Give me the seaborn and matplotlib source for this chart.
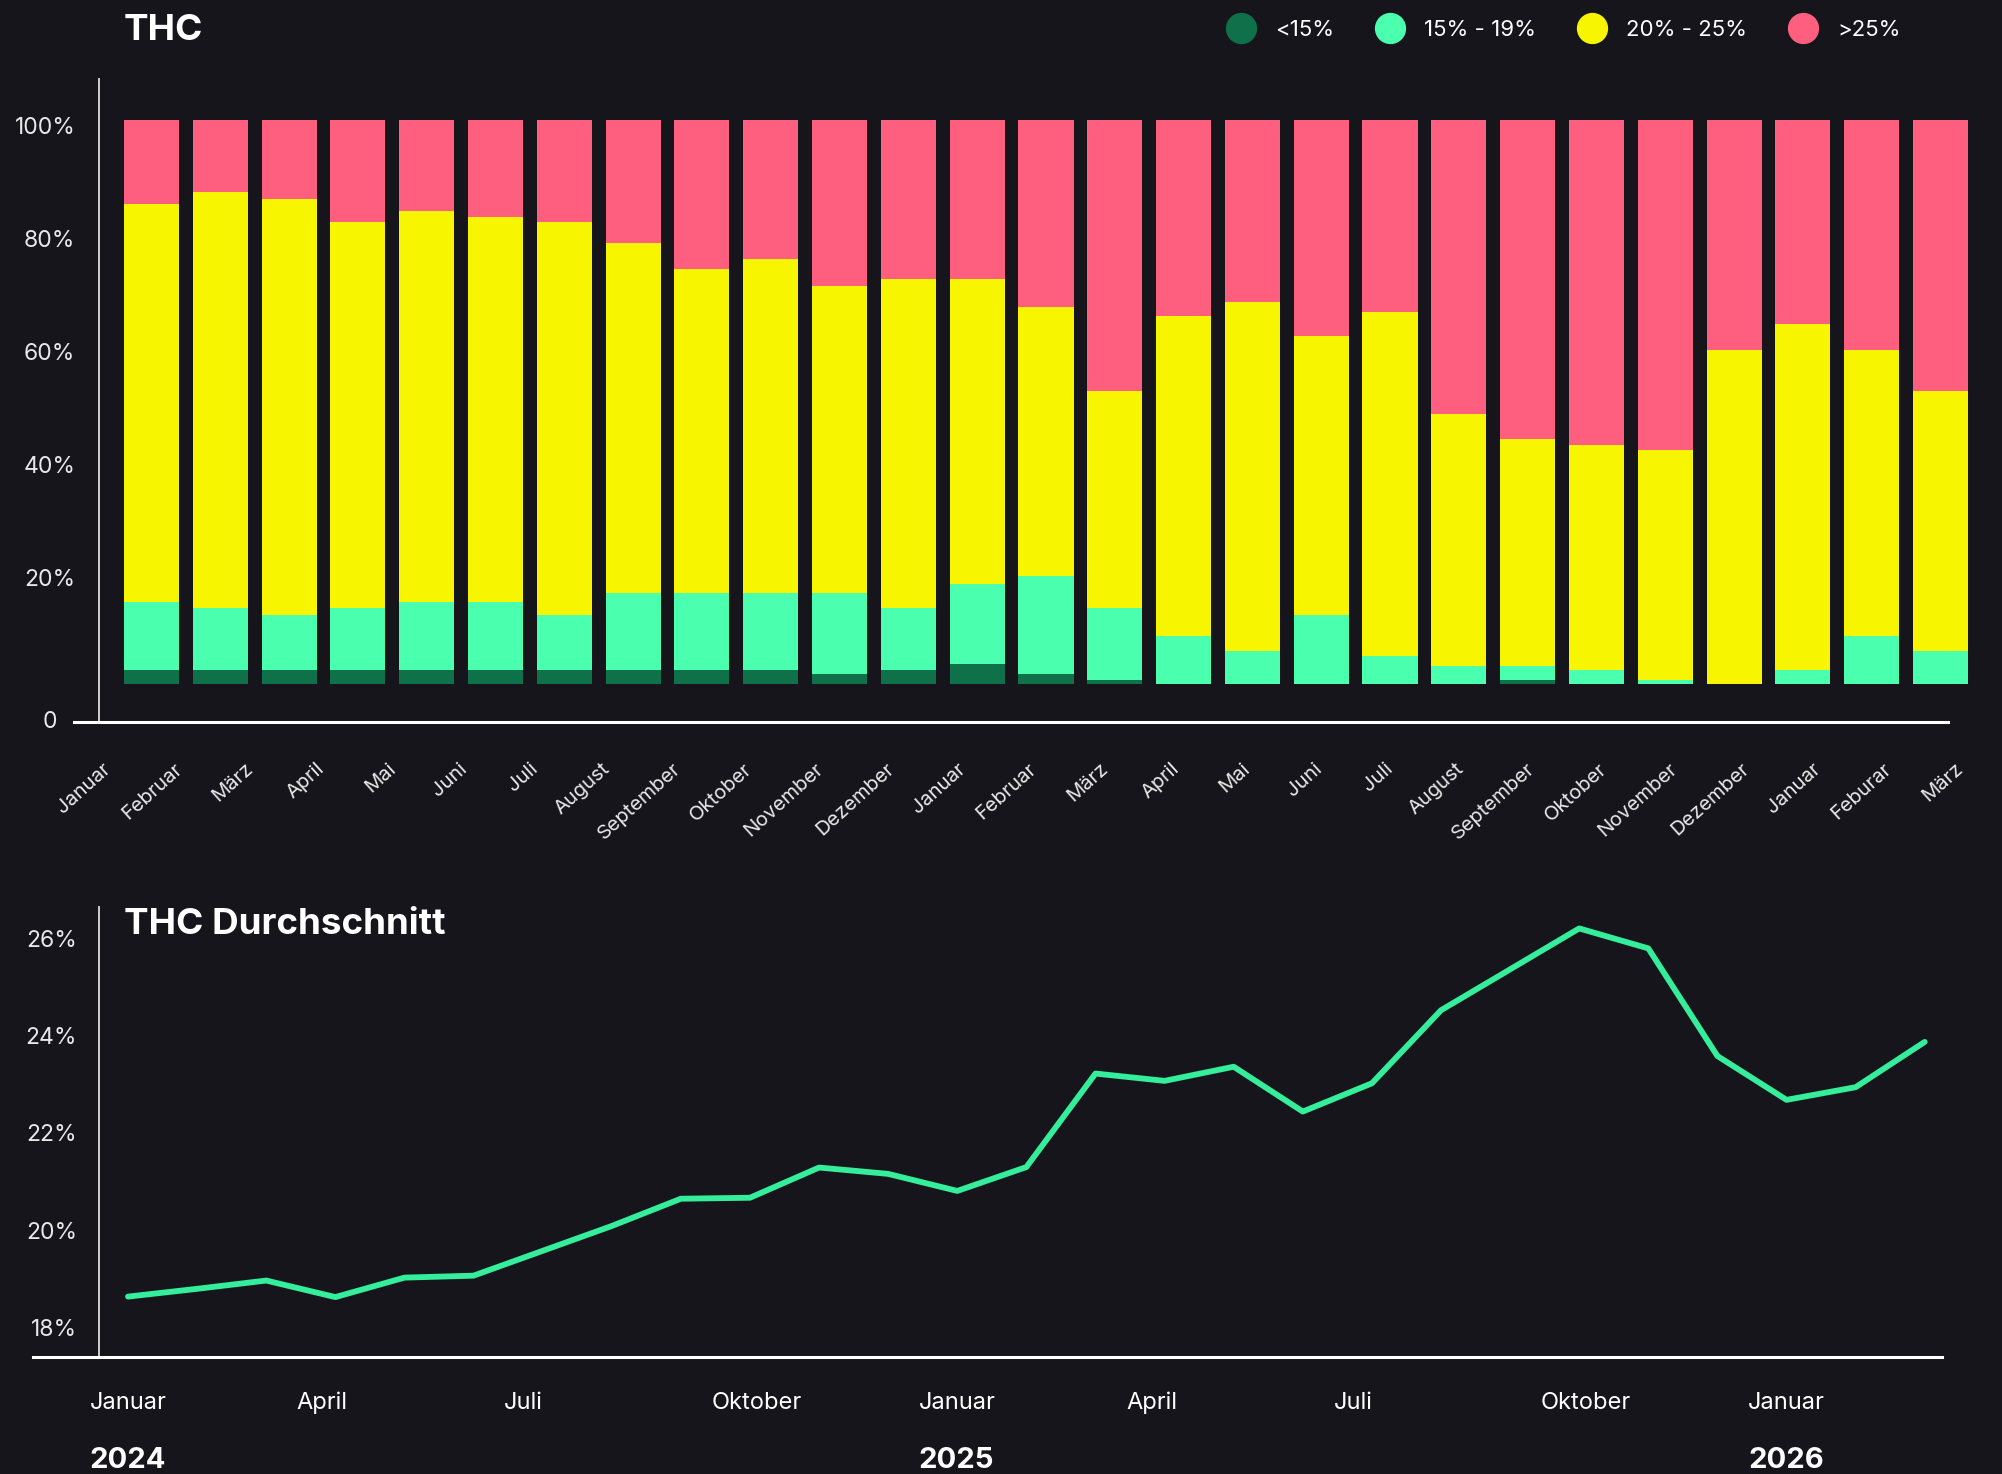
import numpy as np
import pandas as pd
import seaborn as sns
import matplotlib.pyplot as plt
from matplotlib.lines import Line2D
from matplotlib.transforms import ScaledTranslation

# ---- data ----
bar_months = ['Januar', 'Februar', 'März', 'April', 'Mai', 'Juni', 'Juli', 'August',
              'September', 'Oktober', 'November', 'Dezember',
              'Januar', 'Februar', 'März', 'April', 'Mai', 'Juni', 'Juli', 'August',
              'September', 'Oktober', 'November', 'Dezember',
              'Januar', 'Feburar', 'März']
share_lt15 = [2.5, 2.5, 2.5, 2.5, 2.5, 2.5, 2.5, 2.5, 2.5, 2.5, 1.8, 2.5, 3.5, 1.8,
              0.7, 0, 0, 0, 0, 0, 0.7, 0, 0, 0, 0, 0, 0]
share_15_19 = [12.1, 11.0, 9.7, 11.0, 12.1, 12.1, 9.7, 13.6, 13.6, 13.6, 14.3, 11.0, 14.2, 17.4,
               12.8, 8.5, 5.9, 12.2, 5.0, 3.2, 2.5, 2.5, 0.7, 0, 2.5, 8.5, 5.9]
share_20_25 = [70.4, 73.7, 73.7, 68.4, 69.2, 68.1, 69.7, 62.0, 57.4, 59.2, 54.4, 58.3, 54.1, 47.6,
               38.4, 56.7, 61.8, 49.5, 60.9, 44.6, 40.2, 39.8, 40.8, 59.2, 61.3, 50.7, 46.0]
share_gt25 = [15.0, 12.8, 14.1, 18.1, 16.2, 17.3, 18.1, 21.9, 26.5, 24.7, 29.5, 28.2, 28.2, 33.2,
              48.1, 34.8, 32.3, 38.3, 34.1, 52.2, 56.6, 57.7, 58.5, 40.8, 36.2, 40.8, 48.1]
legend_labels = ['<15%', '15% - 19%', '20% - 25%', '>25%']
bar_yticks = [20, 40, 60, 80, 100]

thc_avg = [18.64, 18.80, 18.97, 18.63, 19.03, 19.07, 19.58, 20.09, 20.65, 20.67, 21.29, 21.16,
           20.81, 21.30, 23.22, 23.07, 23.36, 22.44, 23.02, 24.52, 25.36, 26.20, 25.79, 23.58,
           22.68, 22.94, 23.87]
line_tick_idx = [0, 3, 6, 9, 12, 15, 18, 21, 24]
line_tick_labels = ['Januar', 'April', 'Juli', 'Oktober', 'Januar', 'April', 'Juli', 'Oktober', 'Januar']
year_idx = [0, 12, 24]
year_labels = ['2024', '2025', '2026']
line_yticks = [18, 20, 22, 24, 26]

# ---- style ----
bg = '#16151b'
fg = '#ffffff'
tick_col = '#e8e8e8'
colors = ['#0f7149', '#4affad', '#f8f500', '#ff5f7e']
line_col = '#34ee9b'

sns.set_theme(style='dark', rc={'figure.facecolor': bg, 'axes.facecolor': bg,
                                'savefig.facecolor': bg, 'axes.grid': False})
plt.rcParams['font.family'] = ['Inter', 'DejaVu Sans']

W, H = 2002, 1474
fig = plt.figure(figsize=(W / 100, H / 100), dpi=100)

# ---- top: stacked bars ----
ax1 = fig.add_axes([74 / W, (H - 722) / H, (1968 - 74) / W, (722 - 79) / H])
n = len(bar_months)
idx = np.arange(n)
layers = np.cumsum([share_lt15, share_15_19, share_20_25, share_gt25], axis=0)
for k in reversed(range(4)):
    sns.barplot(x=idx, y=layers[k], color=colors[k], saturation=1, width=0.8,
                errorbar=None, linewidth=0, ax=ax1)

ax1.set_xlim(-1.126, 26.40)
ax1.set_ylim(-6.7, 107.2)
ax1.set_xlabel('')
ax1.set_ylabel('')
for s in ['top', 'right']:
    ax1.spines[s].set_visible(False)
ax1.spines['left'].set_position(('data', -0.763))
ax1.spines['left'].set_color('#cfcfcf')
ax1.spines['left'].set_linewidth(1.4)
ax1.spines['bottom'].set_color(fg)
ax1.spines['bottom'].set_linewidth(2.2)
ax1.spines['bottom'].set_bounds(-1.126, 26.11)

ax1.set_yticks(bar_yticks)
ax1.set_yticklabels([f'{v}%' for v in bar_yticks])
ax1.tick_params(axis='y', length=0, pad=17, labelsize=16.5, labelcolor=tick_col)
down = ScaledTranslation(0, -6 / 100, fig.dpi_scale_trans)
for lab in ax1.get_yticklabels():
    lab.set_transform(lab.get_transform() + down)
ax1.text(-1.475, -6.7, '0', ha='center', va='center', fontsize=16.5, color=tick_col, clip_on=False)

# month labels sit on their own, slightly wider grid
ax1.set_xticks(idx * 1.035 - 0.625)
ax1.set_xticklabels(bar_months, rotation=42, ha='right', va='center', rotation_mode='anchor')
ax1.tick_params(axis='x', length=0, pad=32, labelsize=14.5, labelcolor=tick_col)

fig.text(124 / W, 1 - 31 / H, 'THC', fontsize=26.5, fontweight='bold', color=fg,
         ha='left', va='center')

handles = [Line2D([], [], marker='o', linestyle='', markersize=21.5, color=c) for c in colors]
fig.legend(handles, legend_labels, loc='center left', bbox_to_anchor=((1241 - 15) / W, 1 - 30 / H),
           ncol=4, frameon=False, fontsize=16, labelcolor=fg, handlelength=1.35,
           handletextpad=0.85, columnspacing=1.85, borderpad=0, borderaxespad=0)

# ---- bottom: average line ----
ax2 = fig.add_axes([33 / W, (H - 1357) / H, (1942 - 33) / W, (1357 - 907) / H])
m = len(thc_avg)
sns.lineplot(x=np.arange(m), y=thc_avg, color=line_col, linewidth=4.2, ax=ax2)
ax2.set_xlim(-1.375, 26.25)
ax2.set_ylim(17.4, 26.64)
ax2.set_xlabel('')
ax2.set_ylabel('')
for s in ['top', 'right']:
    ax2.spines[s].set_visible(False)
ax2.spines['left'].set_position(('data', -0.415))
ax2.spines['left'].set_color('#cfcfcf')
ax2.spines['left'].set_linewidth(1.4)
ax2.spines['bottom'].set_color(fg)
ax2.spines['bottom'].set_linewidth(2.2)

ax2.set_yticks(line_yticks)
ax2.set_yticklabels([f'{v}%' for v in line_yticks])
ax2.tick_params(axis='y', length=0, pad=16, labelsize=16.5, labelcolor=tick_col)

ax2.set_xticks(line_tick_idx)
ax2.set_xticklabels(line_tick_labels, ha='left')
ax2.tick_params(axis='x', length=0, pad=25, labelsize=17, labelcolor=fg)
shift = ScaledTranslation(-38.5 / 100, 0, fig.dpi_scale_trans)
for lab in ax2.get_xticklabels():
    lab.set_transform(lab.get_transform() + shift)

for i, yl in zip(year_idx, year_labels):
    ax2.text(i, 15.28, yl, ha='left', va='center', fontsize=21, fontweight='bold', color=fg,
             transform=ax2.transData + shift, clip_on=False)

fig.text(124 / W, 1 - 924 / H, 'THC Durchschnitt', fontsize=26.5, fontweight='bold', color=fg,
         ha='left', va='center')

fig.savefig('out.png', dpi=100, facecolor=bg)
